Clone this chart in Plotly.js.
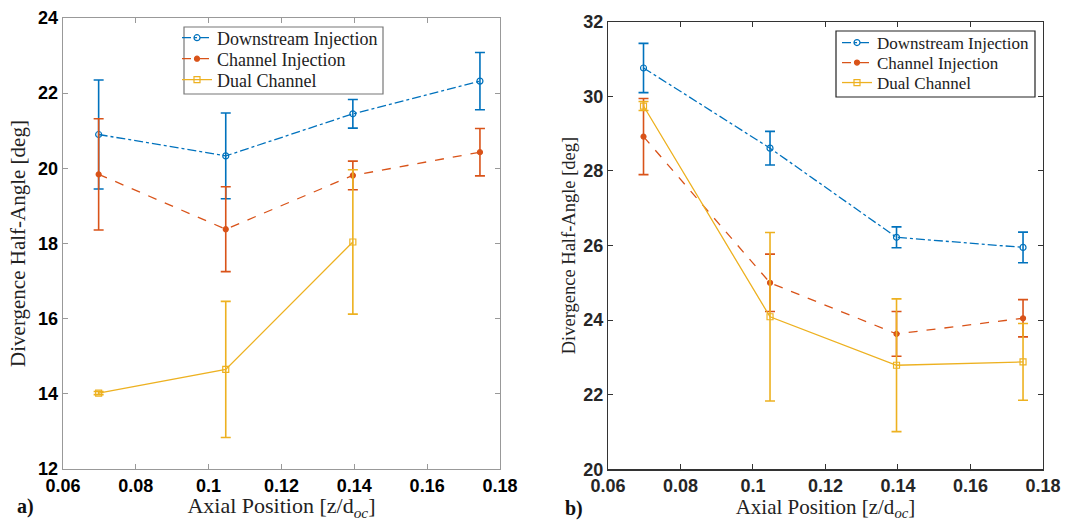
<!DOCTYPE html>
<html>
<head>
<meta charset="utf-8">
<script src="https://cdn.plot.ly/plotly-3.0.1.min.js"></script>
<style>html,body{margin:0;padding:0;background:#fff;}#chart{width:1078px;height:521px;}</style>
</head>
<body>
<div id="chart"></div>
<script>
// ---- data ----
const positions = [0.0698, 0.1047, 0.1396, 0.1745];
const seriesNames = ['Downstream Injection', 'Channel Injection', 'Dual Channel'];

// Panel a)
const aDownstream = [20.9, 20.33, 21.45, 22.32];
const aDownstreamErr = [1.45, 1.14, 0.38, 0.76];
const aChannel = [19.84, 18.38, 19.81, 20.43];
const aChannelErr = [1.48, 1.13, 0.38, 0.63];
const aDualPositions = [0.0698, 0.1047, 0.1396];
const aDual = [14.02, 14.65, 18.04];
const aDualErr = [0.04, 1.81, 1.92];

// Panel b)
const bDownstream = [30.76, 28.61, 26.22, 25.95];
const bDownstreamErr = [0.66, 0.45, 0.28, 0.41];
const bChannel = [28.92, 25.0, 23.63, 24.05];
const bChannelErr = [1.02, 0.77, 0.6, 0.5];
const bDual = [29.74, 24.09, 22.79, 22.88];
const bDualErr = [0.12, 2.26, 1.78, 1.03];

const xTickVals = [0.06, 0.08, 0.1, 0.12, 0.14, 0.16, 0.18];
const xTickLabels = ['0.06', '0.08', '0.1', '0.12', '0.14', '0.16', '0.18'];
const aYTicks = [12, 14, 16, 18, 20, 22, 24];
const bYTicks = [20, 22, 24, 26, 28, 30, 32];

// ---- styles ----
const W = 1078, H = 521;
const BLUE = '#0072BD', RED = '#D95319', YEL = '#EDB120';
const SERIF = 'Liberation Serif';
const SANS = 'Liberation Sans';
const bold = a => a.map(s => '<b>' + s + '</b>');

function trace(x, y, err, name, color, dash, symbol, xa, ya, legend) {
  return {
    x: x, y: y, name: name, type: 'scatter', mode: 'lines+markers',
    xaxis: xa, yaxis: ya, legend: legend, showlegend: true,
    line: {color: color, width: 1.3, dash: dash},
    marker: {color: color, symbol: symbol, size: symbol === 'circle' ? 5 : 6, line: {color: color, width: 1.2}},
    error_y: {type: 'data', array: err, visible: true, color: color, thickness: 1.6, width: 5}
  };
}
const data = [
  trace(positions, aDownstream, aDownstreamErr, seriesNames[0], BLUE, 'dashdot', 'circle-open', 'x', 'y', 'legend'),
  trace(positions, aChannel, aChannelErr, seriesNames[1], RED, 'dash', 'circle', 'x', 'y', 'legend2'),
  trace(aDualPositions, aDual, aDualErr, seriesNames[2], YEL, 'solid', 'square-open', 'x', 'y', 'legend3'),
  trace(positions, bDownstream, bDownstreamErr, seriesNames[0], BLUE, 'dashdot', 'circle-open', 'x2', 'y2', 'legend4'),
  trace(positions, bChannel, bChannelErr, seriesNames[1], RED, 'dash', 'circle', 'x2', 'y2', 'legend5'),
  trace(positions, bDual, bDualErr, seriesNames[2], YEL, 'solid', 'square-open', 'x2', 'y2', 'legend6')
];

function tickFont(c) { return {family: SANS, size: 18, color: c}; }
function xaxis(domain, anchor, lc, tc, tsize) {
  return {domain: domain, anchor: anchor, range: [0.06, 0.18], tickvals: xTickVals, ticktext: bold(xTickLabels),
    ticks: 'inside', ticklen: 5, tickcolor: lc, linecolor: lc, linewidth: 1.2, mirror: 'ticks', showline: true,
    showgrid: false, zeroline: false, tickfont: tickFont(tc), automargin: false,
    title: {text: 'Axial Position [z/d<sub><i>oc</i></sub>]', font: {family: SERIF, size: tsize, color: '#222'}, standoff: 0}};
}
function yaxis(domain, anchor, range, ticks, lc, tc, tsize, standoff) {
  return {domain: domain, anchor: anchor, range: range, tickvals: ticks, ticktext: bold(ticks.map(String)),
    ticks: 'inside', ticklen: 5, tickcolor: lc, linecolor: lc, linewidth: 1.2, mirror: 'ticks', showline: true,
    showgrid: false, zeroline: false, tickfont: tickFont(tc), automargin: false,
    title: {text: 'Divergence Half-Angle [deg]', font: {family: SERIF, size: tsize, color: '#222'}, standoff: standoff}};
}
function leg(px, py, size) {
  return {x: px / W, y: 1 - py / H, xanchor: 'left', yanchor: 'middle', bgcolor: 'rgba(0,0,0,0)', borderwidth: 0,
    font: {family: SERIF, size: size, color: '#222'}, itemwidth: 30, tracegroupgap: 0};
}
function box(x0, y0, x1, y1, lc) {
  return {type: 'rect', xref: 'paper', yref: 'paper', x0: x0 / W, x1: x1 / W, y0: 1 - y1 / H, y1: 1 - y0 / H,
    fillcolor: '#fff', line: {color: lc, width: 1.2}, layer: 'above'};
}

const layout = {
  width: W, height: H, margin: {l: 0, r: 0, t: 0, b: 0},
  paper_bgcolor: '#fff', plot_bgcolor: '#fff',
  xaxis: xaxis([0.0584, 0.4638], 'y', '#999', '#000', 22),
  yaxis: yaxis([0.0998, 0.9655], 'x', [12, 24], aYTicks, '#999', '#000', 21, 6),
  xaxis2: xaxis([0.564, 0.9675], 'y2', '#333', '#262626', 21),
  yaxis2: yaxis([0.0992, 0.9583], 'x2', [20, 32], bYTicks, '#333', '#262626', 18.5, 2),
  legend: leg(177, 38, 18), legend2: leg(177, 59, 18), legend3: leg(177, 80, 18),
  legend4: leg(837, 43, 17), legend5: leg(837, 63, 17), legend6: leg(837, 83, 17),
  shapes: [box(184, 27, 383, 94, '#777'), box(836, 31, 1035, 97, '#222')],
  annotations: [
    {text: '<b>a)</b>', xref: 'paper', yref: 'paper', x: 15 / W, y: 1 - 506 / H, xanchor: 'left', yanchor: 'middle', showarrow: false,
      font: {family: SERIF, size: 20, color: '#111'}},
    {text: '<b>b)</b>', xref: 'paper', yref: 'paper', x: 563 / W, y: 1 - 508 / H, xanchor: 'left', yanchor: 'middle', showarrow: false,
      font: {family: SERIF, size: 20, color: '#111'}}
  ],
  showlegend: true
};
Plotly.newPlot('chart', data, layout, {staticPlot: true, displayModeBar: false});
</script>
</body>
</html>
